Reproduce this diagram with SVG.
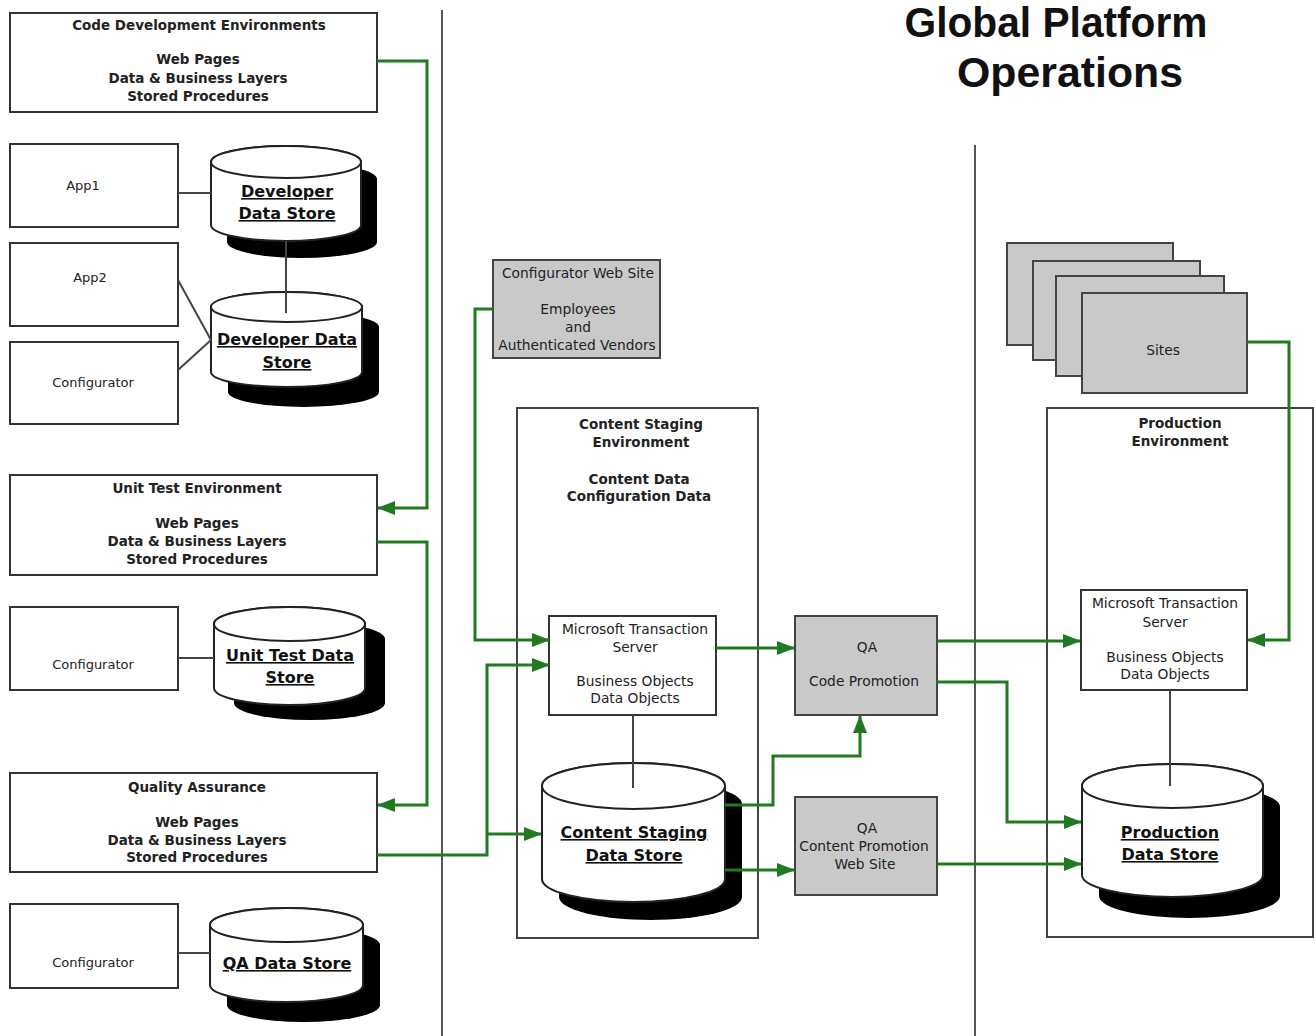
<svg xmlns="http://www.w3.org/2000/svg" width="1315" height="1036" viewBox="0 0 1315 1036">
<defs>
<marker id="ah" markerUnits="userSpaceOnUse" markerWidth="18" markerHeight="14" refX="17" refY="7" orient="auto" viewBox="0 0 18 14"><path d="M0,0 L18,7 L0,14 Z" fill="#217a21"/></marker>
</defs>
<style>
.box{fill:#fff;stroke:#333;stroke-width:2}
.gbox{fill:#c9c9c9;stroke:#444;stroke-width:2}
.t{font-family:"DejaVu Sans","Liberation Sans",sans-serif;font-size:13px;fill:#222;text-anchor:middle}
.m{font-size:13.8px}
.b{font-weight:bold;font-size:13.5px}
.ct{font-size:16px;font-weight:bold;text-decoration:underline;fill:#111}
.cyl{fill:#fff;stroke:#222;stroke-width:2}
.sh{fill:#000}
.wire{fill:none;stroke:#217a21;stroke-width:3;marker-end:url(#ah)}
.plain{stroke:#444;stroke-width:2;fill:none}
.sep{stroke:#555;stroke-width:2}
.title{font-family:"Liberation Sans",Arial,sans-serif;font-size:42px;font-weight:bold;fill:#111;text-anchor:middle}
</style>
<rect width="1315" height="1036" fill="#fff"/>

<g id="separators">
<line class="sep" x1="442" y1="10" x2="442" y2="1036"/>
<line class="sep" x1="975" y1="145" x2="975" y2="1036"/>
</g>

<g id="title">
<text class="title" x="1056" y="37" textLength="303" lengthAdjust="spacingAndGlyphs">Global Platform</text>
<text class="title" x="1070" y="87" textLength="226" lengthAdjust="spacingAndGlyphs">Operations</text>
</g>

<g id="code-dev">
<rect class="box" x="10" y="13" width="367" height="99"/>
<text class="t b" x="199" y="30">Code Development Environments</text>
<text class="t b" x="198" y="64">Web Pages</text>
<text class="t b" x="198" y="83">Data &amp; Business Layers</text>
<text class="t b" x="198" y="101">Stored Procedures</text>
</g>

<g id="app1">
<rect class="box" x="10" y="144" width="168" height="83"/>
<text class="t" x="83" y="190">App1</text>
</g>
<g id="app2">
<rect class="box" x="10" y="243" width="168" height="83"/>
<text class="t" x="90" y="282">App2</text>
</g>
<g id="configurator-dev">
<rect class="box" x="10" y="342" width="168" height="82"/>
<text class="t" x="93" y="387">Configurator</text>
</g>

<g id="dev-store-1">
<path class="sh" transform="translate(16,17)" d="M211,162 A75,16 0 0 1 361,162 V225 A75,16 0 0 1 211,225 Z"/>
<path class="cyl" d="M211,162 A75,16 0 0 1 361,162 V225 A75,16 0 0 1 211,225 Z"/>
<ellipse class="cyl" cx="286" cy="162" rx="75" ry="16"/>
<text class="t ct" x="287" y="197">Developer</text>
<text class="t ct" x="287" y="219">Data Store</text>
</g>

<g id="dev-store-2">
<path class="sh" transform="translate(17,20)" d="M211,307 A75.5,15 0 0 1 362,307 V372 A75.5,15 0 0 1 211,372 Z"/>
<path class="cyl" d="M211,307 A75.5,15 0 0 1 362,307 V372 A75.5,15 0 0 1 211,372 Z"/>
<ellipse class="cyl" cx="286.5" cy="307" rx="75.5" ry="15"/>
<text class="t ct" x="287" y="345">Developer Data</text>
<text class="t ct" x="287" y="368">Store</text>
</g>

<g id="unit-test">
<rect class="box" x="10" y="475" width="367" height="100"/>
<text class="t b" x="197" y="493">Unit Test Environment</text>
<text class="t b" x="197" y="528">Web Pages</text>
<text class="t b" x="197" y="546">Data &amp; Business Layers</text>
<text class="t b" x="197" y="564">Stored Procedures</text>
</g>

<g id="configurator-unit">
<rect class="box" x="10" y="607" width="168" height="83"/>
<text class="t" x="93" y="669">Configurator</text>
</g>

<g id="unit-store">
<path class="sh" transform="translate(20,15)" d="M214,624 A75.5,17 0 0 1 365,624 V688 A75.5,17 0 0 1 214,688 Z"/>
<path class="cyl" d="M214,624 A75.5,17 0 0 1 365,624 V688 A75.5,17 0 0 1 214,688 Z"/>
<ellipse class="cyl" cx="289.5" cy="624" rx="75.5" ry="17"/>
<text class="t ct" x="290" y="661">Unit Test Data</text>
<text class="t ct" x="290" y="683">Store</text>
</g>

<g id="quality-assurance">
<rect class="box" x="10" y="773" width="367" height="99"/>
<text class="t b" x="197" y="792">Quality Assurance</text>
<text class="t b" x="197" y="827">Web Pages</text>
<text class="t b" x="197" y="845">Data &amp; Business Layers</text>
<text class="t b" x="197" y="862">Stored Procedures</text>
</g>

<g id="configurator-qa">
<rect class="box" x="10" y="904" width="168" height="84"/>
<text class="t" x="93" y="967">Configurator</text>
</g>

<g id="qa-store">
<path class="sh" transform="translate(17,20)" d="M210,925 A76.5,17 0 0 1 363,925 V985 A76.5,17 0 0 1 210,985 Z"/>
<path class="cyl" d="M210,925 A76.5,17 0 0 1 363,925 V985 A76.5,17 0 0 1 210,985 Z"/>
<ellipse class="cyl" cx="286.5" cy="925" rx="76.5" ry="17"/>
<text class="t ct" x="287" y="969">QA Data Store</text>
</g>

<g id="configurator-web-site">
<rect class="gbox" x="493" y="260" width="167" height="98"/>
<text class="t m" x="578" y="278">Configurator Web Site</text>
<text class="t m" x="578" y="314">Employees</text>
<text class="t m" x="578" y="332">and</text>
<text class="t m" x="577" y="350">Authenticated Vendors</text>
</g>

<g id="content-staging-env">
<rect class="box" x="517" y="408" width="241" height="530" style="stroke:#444"/>
<text class="t b" x="641" y="429">Content Staging</text>
<text class="t b" x="641" y="447">Environment</text>
<text class="t b" x="639" y="484">Content Data</text>
<text class="t b" x="639" y="501">Configuration Data</text>
</g>

<g id="staging-mts">
<rect class="box" x="549" y="616" width="167" height="99"/>
<text class="t m" x="635" y="634">Microsoft Transaction</text>
<text class="t m" x="635" y="652">Server</text>
<text class="t m" x="635" y="686">Business Objects</text>
<text class="t m" x="635" y="703">Data Objects</text>
</g>

<g id="staging-store">
<path class="sh" transform="translate(17,18)" d="M542,786 A91.5,23 0 0 1 725,786 V879 A91.5,23 0 0 1 542,879 Z"/>
<path class="cyl" d="M542,786 A91.5,23 0 0 1 725,786 V879 A91.5,23 0 0 1 542,879 Z"/>
<ellipse class="cyl" cx="633.5" cy="786" rx="91.5" ry="23"/>
<text class="t ct" x="634" y="838">Content Staging</text>
<text class="t ct" x="634" y="861">Data Store</text>
</g>

<g id="qa-code-promotion">
<rect class="gbox" x="795" y="616" width="142" height="99"/>
<text class="t m" x="867" y="652">QA</text>
<text class="t m" x="864" y="686">Code Promotion</text>
</g>

<g id="qa-content-promotion">
<rect class="gbox" x="795" y="797" width="142" height="98"/>
<text class="t m" x="867" y="833">QA</text>
<text class="t m" x="864" y="851">Content Promotion</text>
<text class="t m" x="865" y="869">Web Site</text>
</g>

<g id="sites">
<rect class="gbox" x="1007" y="243" width="166" height="102"/>
<rect class="gbox" x="1033" y="261" width="167" height="99"/>
<rect class="gbox" x="1056" y="276" width="168" height="100"/>
<rect class="gbox" x="1082" y="293" width="165" height="100"/>
<text class="t m" x="1163" y="355">Sites</text>
</g>

<g id="production-env">
<rect class="box" x="1047" y="408" width="266" height="529" style="stroke:#444"/>
<text class="t b" x="1180" y="428">Production</text>
<text class="t b" x="1180" y="446">Environment</text>
</g>

<g id="production-mts">
<rect class="box" x="1081" y="590" width="166" height="100"/>
<text class="t m" x="1165" y="608">Microsoft Transaction</text>
<text class="t m" x="1165" y="627">Server</text>
<text class="t m" x="1165" y="662">Business Objects</text>
<text class="t m" x="1165" y="679">Data Objects</text>
</g>

<g id="production-store">
<path class="sh" transform="translate(17,21)" d="M1082,786 A90.5,22 0 0 1 1263,786 V875 A90.5,22 0 0 1 1082,875 Z"/>
<path class="cyl" d="M1082,786 A90.5,22 0 0 1 1263,786 V875 A90.5,22 0 0 1 1082,875 Z"/>
<ellipse class="cyl" cx="1172.5" cy="786" rx="90.5" ry="22"/>
<text class="t ct" x="1170" y="838">Production</text>
<text class="t ct" x="1170" y="860">Data Store</text>
</g>

<g id="connectors">
<line class="plain" x1="178" y1="193" x2="211" y2="193"/>
<line class="plain" x1="286" y1="241" x2="286" y2="313"/>
<line class="plain" x1="178" y1="280" x2="211" y2="340"/>
<line class="plain" x1="178" y1="370" x2="211" y2="340"/>
<line class="plain" x1="178" y1="658" x2="214" y2="658"/>
<line class="plain" x1="178" y1="953" x2="210" y2="953"/>
<line class="plain" x1="633" y1="715" x2="633" y2="788"/>
<line class="plain" x1="1170" y1="690" x2="1170" y2="786"/>

<path class="wire" d="M377,61 H427 V508 H378"/>
<path class="wire" d="M377,542 H427 V805 H378"/>
<path class="wire" d="M377,855 H487 V665 H549"/>
<path class="wire" d="M487,834 H541"/>
<path class="wire" d="M493,309 H475 V640 H549"/>
<path class="wire" d="M716,648 H794"/>
<path class="wire" d="M725,805 H773 V756 H860 V716"/>
<path class="wire" d="M725,870 H794"/>
<path class="wire" d="M937,641 H1080"/>
<path class="wire" d="M937,682 H1007 V822 H1081"/>
<path class="wire" d="M937,864 H1081"/>
<path class="wire" d="M1247,342 H1289 V640 H1248"/>
</g>
</svg>
